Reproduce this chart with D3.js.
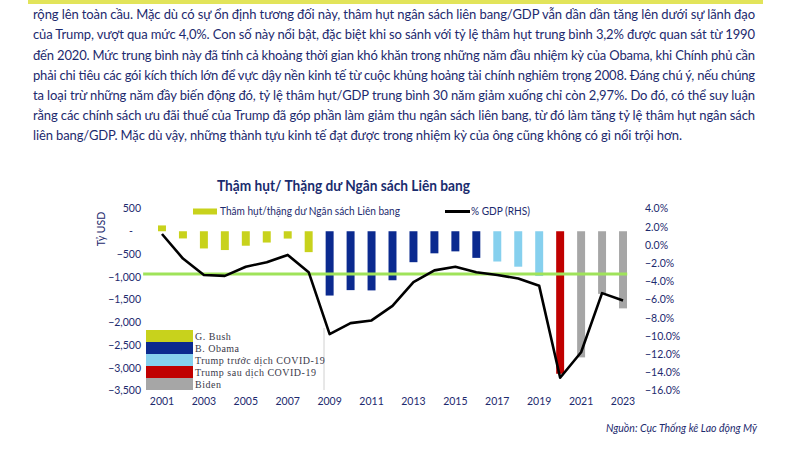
<!DOCTYPE html>
<html><head><meta charset="utf-8">
<script src="https://cdn.jsdelivr.net/npm/d3@7"></script>
<style>body{margin:0;background:#fff}svg{display:block}</style>
</head><body>
<script>
const years = d3.range(2001, 2024);
const deficit = [128,-158,-378,-413,-318,-248,-161,-459,-1413,-1294,-1300,-1077,-680,-485,-442,-585,-665,-779,-984,-3132,-2772,-1376,-1695];
const pctGDP = [1.2,-1.5,-3.3,-3.4,-2.4,-1.9,-1.1,-3.0,-9.8,-8.6,-8.3,-6.7,-4.1,-2.8,-2.4,-3.0,-3.3,-3.7,-4.5,-14.6,-11.8,-5.3,-6.1];
const era = ["Bush","Bush","Bush","Bush","Bush","Bush","Bush","Bush","Obama","Obama","Obama","Obama","Obama","Obama","Obama","Obama","TrumpPre","TrumpPre","TrumpPre","TrumpPost","Biden","Biden","Biden"];
const eraKeys = ["Bush","Obama","TrumpPre","TrumpPost","Biden"];
const eraLabels = ["G. Bush","B. Obama","Trump trước dịch COVID-19","Trump sau dịch COVID-19","Biden"];
const eraColors = ["#c8d21c","#0b2a8f","#86d0ee","#c00000","#a6a6a6"];
const avgLine = -3.2;
const leftTicks = [500,0,-500,-1000,-1500,-2000,-2500,-3000,-3500];
const rightTicks = [4,2,0,-2,-4,-6,-8,-10,-12,-14,-16];
const xTickYears = [2001,2003,2005,2007,2009,2011,2013,2015,2017,2019,2021,2023];
const paragraph = [
"rộng lên toàn cầu. Mặc dù có sự ổn định tương đối này, thâm hụt ngân sách liên bang/GDP vẫn dần dần tăng lên dưới sự lãnh đạo",
"của Trump, vượt qua mức 4,0%. Con số này nổi bật, đặc biệt khi so sánh với tỷ lệ thâm hụt trung bình 3,2% được quan sát từ 1990",
"đến 2020. Mức trung bình này đã tính cả khoảng thời gian khó khăn trong những năm đầu nhiệm kỳ của Obama, khi Chính phủ cần",
"phải chi tiêu các gói kích thích lớn để vực dậy nền kinh tế từ cuộc khủng hoảng tài chính nghiêm trọng 2008. Đáng chú ý, nếu chúng",
"ta loại trừ những năm đầy biến động đó, tỷ lệ thâm hụt/GDP trung bình 30 năm giảm xuống chỉ còn 2,97%. Do đó, có thể suy luận",
"rằng các chính sách ưu đãi thuế của Trump đã góp phần làm giảm thu ngân sách liên bang, từ đó làm tăng tỷ lệ thâm hụt ngân sách",
"liên bang/GDP. Mặc dù vậy, những thành tựu kinh tế đạt được trong nhiệm kỳ của ông cũng không có gì nổi trội hơn."
];
const titleText = "Thậm hụt/ Thặng dư Ngân sách Liên bang";
const legendBar = "Thâm hụt/thặng dư Ngân sách Liên bang";
const legendLine = "% GDP (RHS)";
const yLeftTitle = "Tỷ USD";
const sourceText = "Nguồn: Cục Thống kê Lao động Mỹ";

const W = 785, H = 450;
const navy = "#1d2a6e";
const font = "Lato, 'Open Sans', sans-serif";
const svg = d3.select("body").append("svg").attr("width", W).attr("height", H)
  .style("font-family", font);
svg.append("rect").attr("width", W).attr("height", H).attr("fill", "#fff");

// top strip
svg.append("rect").attr("x", 28).attr("y", 0).attr("width", 735).attr("height", 4).attr("fill", "#e2e45a");

// paragraph
const baselines = [19, 39, 59.5, 79.5, 100, 120, 140];
paragraph.forEach((t, i) => {
  const el = svg.append("text").attr("x", 33).attr("y", baselines[i])
    .attr("fill", navy).attr("font-size", 13).text(t);
  el.attr("textLength", i < 6 ? 722 : 649).attr("lengthAdjust", "spacing");
});

// scales
const x = d3.scaleBand().domain(years).range([151.5, 633.5]).paddingInner(0.62).paddingOuter(0.31);
const yL = d3.scaleLinear().domain([-3500, 500]).range([390.5, 208.5]);
const yR = d3.scaleLinear().domain([-16, 4]).range([390.5, 208.5]);
const cx = d => x(d) + x.bandwidth() / 2;
const colorOf = d3.scaleOrdinal().domain(eraKeys).range(eraColors);

// title
svg.append("text").attr("x", 217).attr("y", 191)
  .attr("font-size", 15).attr("font-weight", "bold").attr("fill", "#1a2c6e")
  .attr("textLength", 253).attr("lengthAdjust", "spacingAndGlyphs").text(titleText);

// left axis
const gL = svg.append("g").attr("transform", "translate(141,0)")
  .call(d3.axisLeft(yL).tickValues(leftTicks).tickSize(0).tickPadding(0)
    .tickFormat(v => v === 0 ? "-" : d3.format(",")(v)));
gL.select(".domain").remove();
gL.selectAll("text").attr("font-size", 10.5).attr("fill", navy).attr("font-family", font);
gL.selectAll(".tick").filter(d => d === 0).select("text").attr("dx", -8);

svg.append("text").attr("transform", "translate(105,229) rotate(-90)").attr("text-anchor", "middle")
  .attr("font-size", 10.5).attr("fill", navy).text(yLeftTitle);

// right axis
const gR = svg.append("g").attr("transform", "translate(645,0)")
  .call(d3.axisRight(yR).tickValues(rightTicks).tickSize(0).tickPadding(0)
    .tickFormat(v => d3.format(".1f")(v) + "%"));
gR.select(".domain").remove();
gR.selectAll("text").attr("font-size", 10.5).attr("fill", navy).attr("font-family", font);

// x axis
const gX = svg.append("g").attr("transform", "translate(0,398)")
  .call(d3.axisBottom(x).tickValues(xTickYears).tickSize(0).tickPadding(0));
gX.select(".domain").remove();
gX.selectAll("text").attr("font-size", 10.5).attr("fill", navy).attr("font-family", font);

// bars
svg.append("g").selectAll("rect").data(years).join("rect")
  .attr("x", d => x(d))
  .attr("width", x.bandwidth())
  .attr("y", (d, i) => yL(Math.max(0, deficit[i])))
  .attr("height", (d, i) => Math.abs(yL(deficit[i]) - yL(0)))
  .attr("fill", (d, i) => colorOf(era[i]));

// average line (green)
const step = x.step();
svg.append("line")
  .attr("x1", cx(2001) - 0.9 * step).attr("x2", cx(2023) + 0.2 * step)
  .attr("y1", yR(avgLine)).attr("y2", yR(avgLine))
  .attr("stroke", "#9fe35a").attr("stroke-width", 3);

// % GDP line
svg.append("path").datum(years)
  .attr("d", d3.line().x(d => cx(d)).y((d, i) => yR(pctGDP[i])))
  .attr("fill", "none").attr("stroke", "#000").attr("stroke-width", 2.6).attr("stroke-linejoin", "round");

// top legend
svg.append("rect").attr("x", 193).attr("y", 208.5).attr("width", 24).attr("height", 6).attr("fill", eraColors[0]);
svg.append("text").attr("x", 220).attr("y", 215).attr("font-size", 11).attr("fill", navy)
  .attr("textLength", 180).attr("lengthAdjust", "spacingAndGlyphs").text(legendBar);
svg.append("line").attr("x1", 445).attr("x2", 470).attr("y1", 211.5).attr("y2", 211.5).attr("stroke", "#000").attr("stroke-width", 3);
svg.append("text").attr("x", 471).attr("y", 215).attr("font-size", 11).attr("fill", navy)
  .attr("textLength", 59).attr("lengthAdjust", "spacingAndGlyphs").text(legendLine);

// era legend box
const lg = svg.append("g");
lg.append("rect").attr("x", 146).attr("y", 328).attr("width", 178).attr("height", 62).attr("fill", "#fff");
lg.append("line").attr("x1", 324).attr("x2", 324).attr("y1", 328).attr("y2", 390).attr("stroke", "#d0d0d0").attr("stroke-width", 1);
eraKeys.forEach((k, i) => {
  lg.append("rect").attr("x", 146).attr("y", 330 + i * 12).attr("width", 47).attr("height", 12).attr("fill", eraColors[i]);
  lg.append("text").attr("x", 195).attr("y", 340 + i * 12).attr("font-size", 10)
    .attr("letter-spacing", 0.5)
    .attr("font-family", "'Liberation Serif', 'Times New Roman', serif").attr("fill", "#3a3a4a").text(eraLabels[i]);
});

// source
svg.append("text").attr("x", 757).attr("y", 432).attr("text-anchor", "end")
  .attr("font-size", 10.5).attr("font-style", "italic").attr("fill", navy).text(sourceText);
</script>
</body></html>
